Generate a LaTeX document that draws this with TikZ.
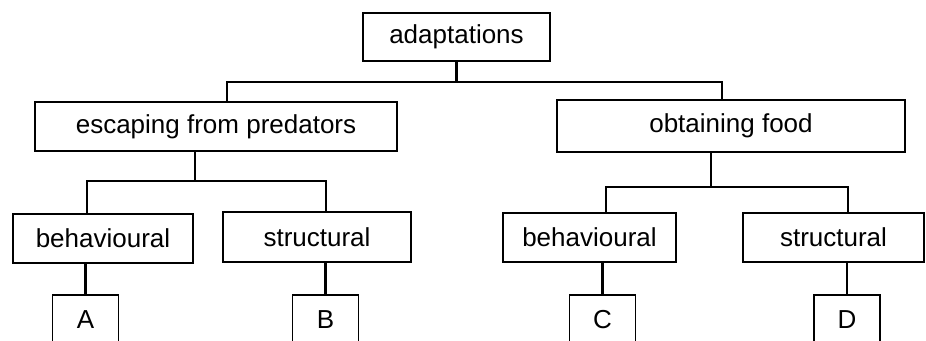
\documentclass[tikz,border=0pt]{standalone}
\usepackage{fontspec}
\setmainfont{Liberation Sans}

\begin{document}
\begin{tikzpicture}[x=1pt,y=-1pt,
  box/.style={draw, line width=1.3pt, inner sep=0pt, font=\fontsize{26}{30}\selectfont},
  link/.style={line width=2.2pt}]
\useasboundingbox (0,0) rectangle (926,340);
\clip (0,0) rectangle (926,340);

\node[box, minimum width=187pt, minimum height=48pt] (adapt) at (456.5,37) {adaptations};
\node[box, minimum width=362pt, minimum height=49pt] (escape) at (216,126.5) {escaping from predators};
\node[box, minimum width=348pt, minimum height=52pt] (food) at (731,126) {obtaining food};

\node[box, minimum width=180pt, minimum height=49pt] (behL) at (103,238.5) {behavioural};
\node[box, minimum width=188pt, minimum height=50pt] (strL) at (317,237) {structural};
\node[box, minimum width=173pt, minimum height=49pt] (behR) at (589.5,237.5) {behavioural};
\node[box, minimum width=181pt, minimum height=49pt] (strR) at (833.5,237.5) {structural};

\foreach \name/\x in {A/85.5, B/325.5, C/602.5, D/847}
  \node[box, minimum width=66pt, minimum height=50pt] (\name) at (\x,320) {\name};

\coordinate (barTL) at (227,82);
\coordinate (barTR) at (722,82);
\coordinate (dropL) at (195,181);
\coordinate (barLL) at (87,181);
\coordinate (barLR) at (326,181);
\coordinate (dropR) at (711,187);
\coordinate (barRL) at (606,187);
\coordinate (barRR) at (848,187);

\draw[link] (adapt.south) -- (adapt.south |- barTL);
\draw[link] (barTL |- escape.north) -- (barTL) -- (barTR) -- (barTR |- food.north);

\draw[link] (dropL |- escape.south) -- (dropL);
\draw[link] (barLL |- behL.north) -- (barLL) -- (barLR) -- (barLR |- strL.north);

\draw[link] (dropR |- food.south) -- (dropR);
\draw[link] (barRL |- behR.north) -- (barRL) -- (barRR) -- (barRR |- strR.north);

\foreach \up/\leaf in {behL/A, strL/B, behR/C, strR/D}
  \draw[link] (\leaf.north |- \up.south) -- (\leaf.north);
\end{tikzpicture}
\end{document}
